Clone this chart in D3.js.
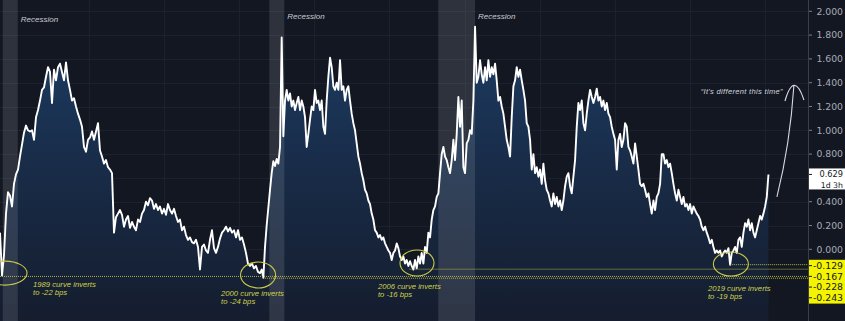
<!DOCTYPE html>
<html><head><meta charset="utf-8">
<script src="https://cdn.jsdelivr.net/npm/d3@7"></script>
<style>html,body{margin:0;padding:0;background:#131722;overflow:hidden}svg{display:block}</style>
</head><body><svg id="c" width="845" height="321"></svg>
<script>
// ---- DATA ----
// spread samples, first block (about monthly) starting 1990.44
const earlyStart = 1990.44, earlyStep = 0.0799;
const spreadEarly = [
 0.14,-0.22,-0.05,0.30,0.48,0.45,0.36,0.55,0.63,0.67,
 0.78,0.88,0.98,1.04,1.00,0.99,1.00,0.92,1.11,1.17,
 1.25,1.34,1.36,1.45,1.53,1.49,1.23,1.51,1.42,1.53,
 1.56,1.49,1.42,1.57,1.42,1.34,1.25,1.27,1.20,1.14,
 1.09,1.03,0.86,0.82,0.92,0.94,0.99,0.92,0.99,1.06,
 0.83,0.78,0.72,0.75,0.69,0.67,0.64,0.14,0.27,0.30,
 0.33,0.29,0.19,0.25,0.28,0.18,0.23,0.19,0.16,0.25,
 0.23,0.30,0.33,0.40,0.37,0.43,0.41,0.34,0.38,0.33,
 0.36,0.30,0.34,0.29,0.38,0.33,0.30,0.34,0.28,0.23,
 0.25,0.16,0.19,0.12,0.08,0.10,0.06,0.05,0.08,0.02,
 -0.17,0.02,0.04,-0.01,-0.03,0.08,0.16,0.01,-0.03,0.02,
 0.09,0.14,0.16,0.19,0.15,0.18,0.14,0.16,0.10,0.16,
 0.08,0.10,0.04,-0.03,-0.12,-0.14,-0.12,-0.16,-0.14,-0.19
];
// second block (about every 24 days) starting 2000.828
const lateStart = 2000.828, lateStep = 0.0666;
const spreadLate = [
 -0.20,-0.17,-0.24,0.02,0.20,0.35,0.50,0.64,0.74,0.70,
 0.76,0.72,0.86,1.78,0.95,1.25,1.34,1.25,1.31,1.20,
 1.25,1.17,1.23,1.28,1.17,1.25,1.20,1.11,0.86,0.97,
 1.09,1.20,1.17,1.34,1.23,1.25,1.17,1.25,1.03,0.97,
 1.25,1.45,1.61,1.53,1.37,1.34,1.40,1.34,1.59,1.34,
 1.37,1.25,1.34,1.37,1.25,1.14,1.06,1.00,0.89,0.78,
 0.72,0.64,0.58,0.50,0.47,0.41,0.38,0.30,0.25,0.16,
 0.14,0.10,0.12,0.08,0.10,0.05,0.02,-0.01,-0.03,-0.09,
 -0.03,-0.01,0.05,0.01,-0.06,-0.09,-0.06,-0.12,-0.09,-0.14,
 -0.10,-0.14,-0.17,-0.09,-0.16,-0.06,-0.12,-0.03,-0.12,0.02,
 -0.03,0.14,0.10,0.25,0.33,0.36,0.44,0.47,0.64,0.80,
 0.86,0.78,0.75,0.69,0.64,0.75,0.92,0.75,0.97,1.28,
 1.03,1.25,0.69,0.64,0.89,0.92,1.00,0.97,1.25,1.87,
 1.40,1.45,1.59,1.47,1.40,1.53,1.42,1.59,1.45,1.53,
 1.47,1.56,1.42,1.25,1.28,1.20,1.14,1.03,0.92,0.86,
 0.78,1.11,1.37,1.42,1.53,1.45,1.51,1.42,1.34,1.25,
 1.06,1.03,0.92,0.67,0.80,0.64,0.69,0.61,0.67,0.55,
 0.72,0.58,0.50,0.47,0.41,0.36,0.47,0.38,0.44,0.36,
 0.41,0.33,0.41,0.53,0.61,0.64,0.53,0.47,0.61,0.75,
 1.03,1.23,1.17,1.25,1.06,1.00,1.14,1.25,1.34,1.28,
 1.23,1.28,1.35,1.25,1.28,1.20,1.25,1.17,1.23,1.14,
 1.11,1.03,0.97,0.92,0.67,0.92,0.97,0.86,0.92,1.06,
 1.03,0.86,0.83,0.78,0.72,0.89,0.78,0.67,0.55,0.53,
 0.55,0.50,0.44,0.47,0.38,0.30,0.41,0.33,0.44,0.47,
 0.55,0.80,0.80,0.72,0.75,0.69,0.72,0.64,0.55,0.47,
 0.41,0.50,0.44,0.38,0.44,0.36,0.38,0.33,0.38,0.30,
 0.36,0.33,0.30,0.28,0.25,0.19,0.16,0.19,0.14,0.10,
 0.05,0.08,0.02,-0.03,-0.01,-0.03,-0.01,-0.06,-0.03,-0.01,
 -0.03,0.01,-0.13,-0.03,-0.01,0.02,-0.03,0.08,0.10,0.02,
 0.14,0.22,0.19,0.25,0.16,0.22,0.14,0.10,0.16,0.22,
 0.28,0.25,0.30,0.36,0.44,0.629
];
const recessions = [[1990.55,1991.15],[2001.2,2001.8],[2007.95,2009.42]];
const recessionText = "Recession";
const yTicks = [2.0,1.8,1.6,1.4,1.2,1.0,0.8,0.6,0.4,0.2,0.0];
const gridYears = [1994,1997,2000,2003,2006,2009,2012,2015,2018,2021];
const levelValues = [-0.129,-0.167,-0.228,-0.243];
const levelFromYears = [2019.6,2006.8,1990.44,2000.95];
const lastValue = 0.629, lastCountdown = "1d 3h";
const invYears = [1990.64,2000.75,2007.1,2019.64];
const invValues = [-0.20,-0.216,-0.115,-0.124];
const invLine1 = ["1989 curve inverts","2000 curve inverts","2006 curve inverts","2019 curve inverts"];
const invLine2 = ["to -22 bps","to -24 bps","to -16 bps","to -19 bps"];
const calloutText = "\u201CIt's different this time\u201D";

// ---- LAYOUT ----
const W = 845, H = 321, plotW = 808;
const svg = d3.select("#c");
const x = d3.scaleLinear().domain([1990.44, 1990.44 + plotW/25.03]).range([0, plotW]);
const y = d3.scaleLinear().domain([0, 2]).range([249.3, 11.3]);

const series = spreadEarly.map((v,i)=>({t: earlyStart + i*earlyStep, v}))
  .concat(spreadLate.map((v,i)=>({t: lateStart + i*lateStep, v})));

svg.append("rect").attr("width",W).attr("height",H).attr("fill","#131722");

const defs = svg.append("defs");
const grad = defs.append("linearGradient").attr("id","ag").attr("gradientUnits","userSpaceOnUse")
  .attr("x1",0).attr("x2",0).attr("y1",y(1.7)).attr("y2",H);
grad.append("stop").attr("offset",0).attr("stop-color","#1c3a60");
grad.append("stop").attr("offset",0.5).attr("stop-color","#182a45");
grad.append("stop").attr("offset",1).attr("stop-color","#151d2e");

// grid
const grid = svg.append("g").attr("stroke","#1c2130").attr("stroke-width",1);
grid.selectAll(".gy").data(yTicks).join("line")
  .attr("x1",0).attr("x2",plotW).attr("y1",d=>Math.round(y(d))+0.5).attr("y2",d=>Math.round(y(d))+0.5);
grid.selectAll(".gx").data(gridYears).join("line")
  .attr("x1",d=>Math.round(x(d))+0.5).attr("x2",d=>Math.round(x(d))+0.5).attr("y1",0).attr("y2",H);

// area
const area = d3.area().x(d=>x(d.t)).y0(H).y1(d=>y(d.v));
svg.append("path").datum(series).attr("d",area).attr("fill","url(#ag)");

// recession bands
svg.selectAll(".rec").data(recessions).join("rect")
  .attr("x",d=>x(d[0])).attr("width",d=>x(d[1])-x(d[0]))
  .attr("y",0).attr("height",H).attr("fill","#b2b5be").attr("fill-opacity",0.17);
const recLabelDy = [21.5,18.5,18.5];
svg.selectAll(".rl").data(recessions).join("text")
  .attr("x",d=>x(d[1])+3).attr("y",(d,i)=>recLabelDy[i])
  .attr("font-family","Liberation Sans, Arial, sans-serif").attr("font-size",8)
  .attr("font-style","italic").attr("fill","#c8cbd3").text(recessionText);

// line
const line = d3.line().x(d=>x(d.t)).y(d=>y(d.v));
svg.append("path").datum(series).attr("d",line).attr("fill","none")
  .attr("stroke","#ffffff").attr("stroke-width",1.9).attr("stroke-linejoin","round");

// level dotted lines
const lvl = levelValues.map((v,i)=>({v, from: levelFromYears[i]}));
svg.selectAll(".lv").data(lvl).join("line")
  .attr("x1",d=>x(d.from)).attr("x2",plotW)
  .attr("y1",d=>y(d.v)).attr("y2",d=>y(d.v))
  .attr("stroke","#c9c94a").attr("stroke-opacity",0.85).attr("stroke-width",1)
  .attr("stroke-dasharray","1,1");

// inversion ellipses + notes
const ellR = [[22,12],[17.5,13],[17,13],[17.5,12]];
const noteOff = [[28,14],[-37,21],[-39,26],[-23,27]];
const inv = invYears.map((t,i)=>({t, v: invValues[i], l1: invLine1[i], l2: invLine2[i]}));
svg.selectAll(".el").data(inv).join("ellipse")
  .attr("cx",d=>x(d.t)).attr("cy",d=>y(d.v))
  .attr("rx",(d,i)=>ellR[i][0]).attr("ry",(d,i)=>ellR[i][1])
  .attr("fill","none").attr("stroke","#c9c94a").attr("stroke-width",1.1);
const notes = svg.selectAll(".nt").data(inv).join("text")
  .attr("font-family","Liberation Sans, Arial, sans-serif").attr("font-size",7.7)
  .attr("font-style","italic").attr("fill","#d0d04a");
notes.append("tspan").attr("x",(d,i)=>x(d.t)+noteOff[i][0]).attr("y",(d,i)=>y(d.v)+noteOff[i][1]).text(d=>d.l1);
notes.append("tspan").attr("x",(d,i)=>x(d.t)+noteOff[i][0]).attr("y",(d,i)=>y(d.v)+noteOff[i][1]+8).text(d=>d.l2);

// callout + arrow
svg.append("text").attr("x",x(2022.16)-11).attr("y",y(1.38)+9)
  .attr("text-anchor","end").attr("font-family","Liberation Sans, Arial, sans-serif")
  .attr("font-size",7.6).attr("font-style","italic").attr("letter-spacing",0.3)
  .attr("fill","#d1d4dc").text(calloutText);
const arrow = d3.path();
arrow.moveTo(x(2021.48), y(0.44));
arrow.quadraticCurveTo(x(2022.0), y(0.876), x(2022.16), y(1.38));
arrow.moveTo(x(2021.80), y(1.246));
arrow.quadraticCurveTo(x(2022.16), y(1.506), x(2022.56), y(1.255));
svg.append("path").attr("d",arrow.toString()).attr("fill","none")
  .attr("stroke","#d8dae0").attr("stroke-width",1.1);

// right axis
const ax = svg.append("g");
ax.append("line").attr("x1",plotW+0.5).attr("x2",plotW+0.5).attr("y1",0).attr("y2",H)
  .attr("stroke","#3a3e4a");
const axisFont = "DejaVu Sans, sans-serif";
const ly = y(lastValue);
const boxTop = ly - 6, boxBot = ly + 15;
// tick labels hidden where the last-value box covers them
const visibleTicks = yTicks.filter(d => y(d) + 6 < boxTop || y(d) - 6 > boxBot);
const tk = ax.selectAll(".tk").data(visibleTicks).join("g").attr("transform",d=>`translate(0,${y(d)})`);
tk.append("line").attr("x1",plotW+1).attr("x2",plotW+4).attr("stroke","#7a7e88");
tk.append("text").attr("x",843).attr("dy","0.35em").attr("text-anchor","end")
  .attr("font-family",axisFont).attr("font-size",9.3).attr("fill","#a9acb5")
  .text(d=>d3.format(".3f")(d));

// last value box
ax.append("rect").attr("x",plotW+1).attr("y",boxTop).attr("width",W-plotW-1).attr("height",boxBot-boxTop).attr("fill","#ffffff");
ax.append("line").attr("x1",plotW+1).attr("x2",plotW+4).attr("y1",ly).attr("y2",ly).attr("stroke","#131722");
ax.append("text").attr("x",843).attr("y",ly-0.5).attr("dy","0.35em").attr("text-anchor","end")
  .attr("font-family",axisFont).attr("font-size",8.2).attr("fill","#131722").text(d3.format(".3f")(lastValue));
ax.append("text").attr("x",843).attr("y",ly+10.5).attr("dy","0.35em").attr("text-anchor","end")
  .attr("font-family",axisFont).attr("font-size",7.8).attr("fill","#131722").text(lastCountdown);

// level labels (stacked to avoid overlap)
const boxH = 10.7;
const lab = levelValues.map(v=>({v, cy: y(v)})).sort((a,b)=>b.v-a.v);
for (let i=0;i<lab.length;i++){ if(i===0) lab[i].cy = lab[i].cy + 1; else lab[i].cy = Math.max(lab[i].cy, lab[i-1].cy + boxH); }
ax.append("rect").attr("x",plotW+1).attr("y",lab[0].cy-boxH/2-0.5).attr("width",W-plotW-1)
  .attr("height",lab[lab.length-1].cy-lab[0].cy+boxH+1).attr("fill","#f4f400");
const lg = ax.selectAll(".lb").data(lab).join("g").attr("transform",d=>`translate(0,${d.cy})`);
lg.append("line").attr("x1",plotW+1).attr("x2",plotW+4).attr("stroke","#131722");
lg.append("text").attr("x",843).attr("dy","0.35em").attr("text-anchor","end")
  .attr("font-family",axisFont).attr("font-size",9.3).attr("fill","#131722")
  .text(d=>d3.format(".3f")(d.v).replace("\u2212","-"));
</script></body></html>
